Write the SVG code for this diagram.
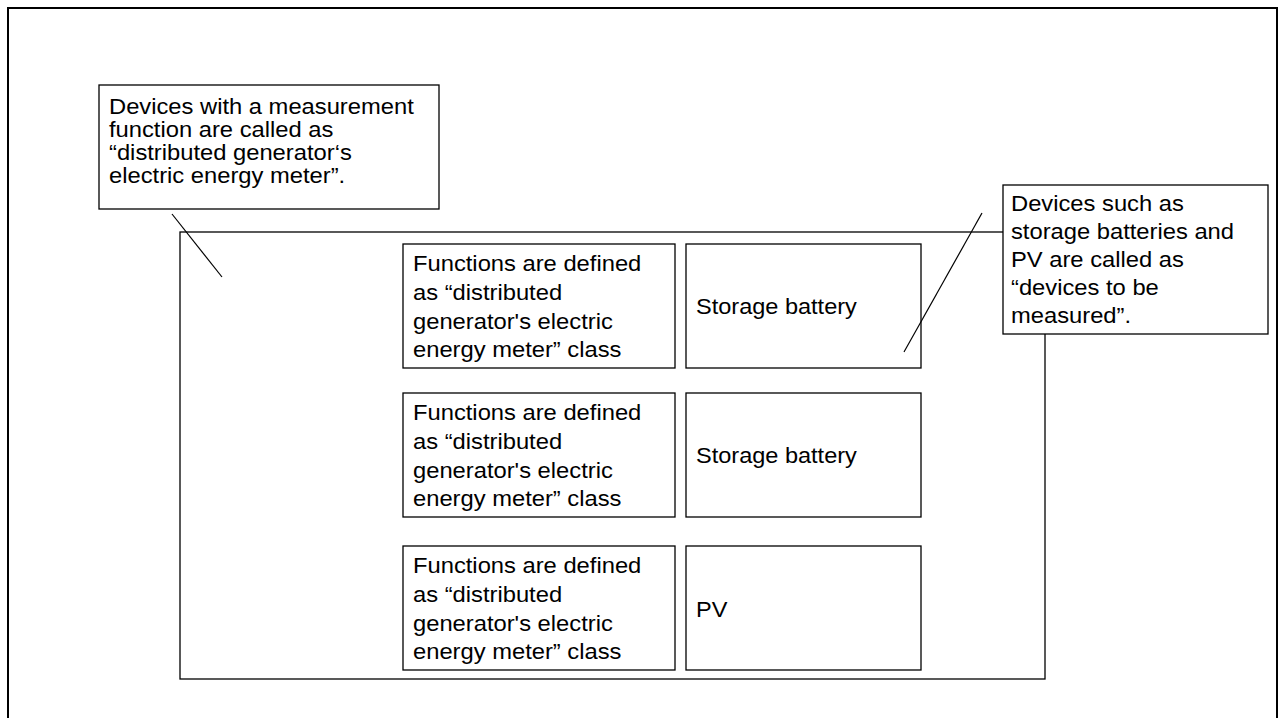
<svg xmlns="http://www.w3.org/2000/svg" width="1286" height="718" viewBox="0 0 1286 718">
<style>
.box{fill:#fff;stroke:#000;stroke-width:1.3}
.frame{fill:none;stroke:#000;stroke-width:2}
.ln{stroke:#000;stroke-width:1.2;fill:none}
text{font-family:"Liberation Sans",Arial,sans-serif;font-size:22px;fill:#000}
</style>
<rect x="0" y="0" width="1286" height="718" fill="#fff"/>
<rect class="frame" x="8" y="8" width="1269" height="730"/>
<g id="container"><rect class="box" x="180" y="232" width="865" height="447"/></g>
<g id="callout-meter">
<rect class="box" x="99" y="85" width="340" height="124"/>
<text transform="translate(109 0) scale(1.08 1)"><tspan x="0" y="114">Devices with a measurement</tspan><tspan x="0" y="137">function are called as</tspan><tspan x="0" y="160">“distributed generator‘s</tspan><tspan x="0" y="183">electric energy meter”.</tspan></text>
</g>
<g id="callout-devices">
<rect class="box" x="1003" y="185" width="265" height="149"/>
<text transform="translate(1011 0) scale(1.08 1)"><tspan x="0" y="211">Devices such as</tspan><tspan x="0" y="239">storage batteries and</tspan><tspan x="0" y="267">PV are called as</tspan><tspan x="0" y="295">“devices to be</tspan><tspan x="0" y="323">measured”.</tspan></text>
</g>
<g id="func1">
<rect class="box" x="403" y="244" width="272" height="124"/>
<text transform="translate(413 0) scale(1.08 1)"><tspan x="0" y="271">Functions are defined</tspan><tspan x="0" y="300">as “distributed</tspan><tspan x="0" y="329">generator's electric</tspan><tspan x="0" y="357">energy meter” class</tspan></text>
</g>
<g id="dev1">
<rect class="box" x="686" y="244" width="235" height="124"/>
<text transform="translate(696 0) scale(1.07 1)" x="0" y="314">Storage battery</text>
</g>
<g id="func2">
<rect class="box" x="403" y="393" width="272" height="124"/>
<text transform="translate(413 0) scale(1.08 1)"><tspan x="0" y="420">Functions are defined</tspan><tspan x="0" y="449">as “distributed</tspan><tspan x="0" y="478">generator's electric</tspan><tspan x="0" y="506">energy meter” class</tspan></text>
</g>
<g id="dev2">
<rect class="box" x="686" y="393" width="235" height="124"/>
<text transform="translate(696 0) scale(1.07 1)" x="0" y="463">Storage battery</text>
</g>
<g id="func3">
<rect class="box" x="403" y="546" width="272" height="124"/>
<text transform="translate(413 0) scale(1.08 1)"><tspan x="0" y="573">Functions are defined</tspan><tspan x="0" y="602">as “distributed</tspan><tspan x="0" y="631">generator's electric</tspan><tspan x="0" y="659">energy meter” class</tspan></text>
</g>
<g id="dev3">
<rect class="box" x="686" y="546" width="235" height="124"/>
<text transform="translate(696 0) scale(1.07 1)" x="0" y="617">PV</text>
</g>
<g id="connectors">
<line class="ln" x1="172" y1="214" x2="222" y2="277"/>
<line class="ln" x1="982" y1="213" x2="904" y2="352"/>
</g>
</svg>
